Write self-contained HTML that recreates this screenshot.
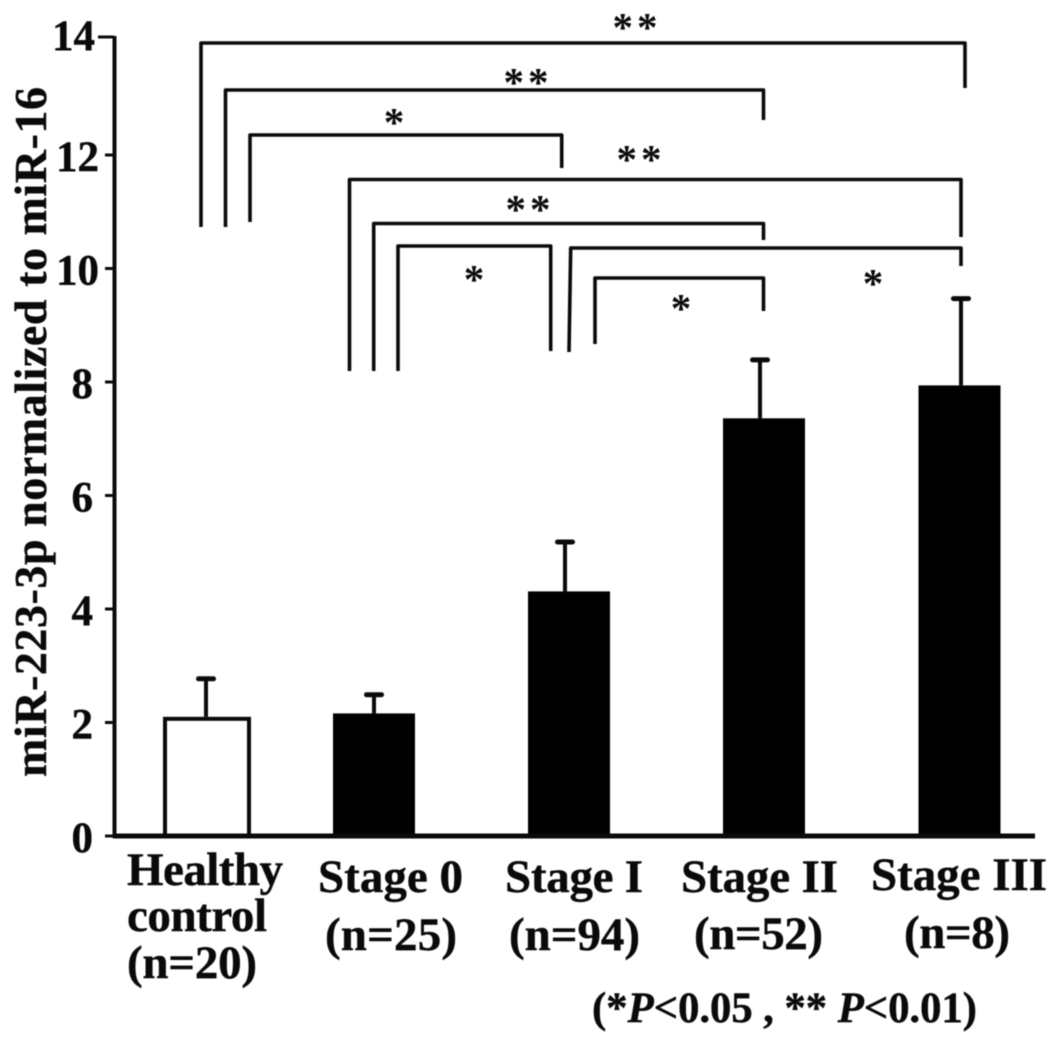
<!DOCTYPE html>
<html lang="en">
<head>
<meta charset="utf-8">
<title>miR-223-3p by stage</title>
<style>
html,body{margin:0;padding:0;background:#fff;width:1063px;height:1044px;overflow:hidden}
svg{display:block;filter:blur(0.6px)}
text{font-family:"Liberation Serif",serif;font-weight:bold;fill:#0a0a0a;stroke:#0a0a0a;stroke-width:0.4px}
.tick{font-size:43px}
.cat{font-size:47px}
.br{fill:none;stroke:#0a0a0a;stroke-width:3.6;stroke-linejoin:round}
.star{font-size:41px;text-anchor:middle;letter-spacing:4px;stroke-width:0}
</style>
</head>
<body>
<svg id="chart" width="1063" height="1044" viewBox="0 0 1063 1044" xmlns="http://www.w3.org/2000/svg">
  <text transform="translate(46,432) rotate(-90)" text-anchor="middle" font-size="46" textLength="690" lengthAdjust="spacing">miR-223-3p normalized to miR-16</text>
  <g id="marks"></g>
  <g id="axes"></g>
  <g>
    <path class="br" d="M201 227V43H965V88"/>
    <path class="br" d="M225.5 227V90H763.5V120"/>
    <path class="br" d="M250 222V135H561.7V168"/>
    <path class="br" d="M349.5 371V179.5H961V237"/>
    <path class="br" d="M373.7 371V223.5H763.5V240"/>
    <path class="br" d="M398 371V246H550.7V351"/>
    <path class="br" d="M569 352L570.7 248H961V266"/>
    <path class="br" d="M595 344V278H763.5V311"/>
  </g>
  <g>
    <text class="star" x="637" y="41">**</text>
    <text class="star" x="528" y="96">**</text>
    <text class="star" x="396" y="136">*</text>
    <text class="star" x="641" y="173">**</text>
    <text class="star" x="530" y="223">**</text>
    <text class="star" x="476" y="293">*</text>
    <text class="star" x="683" y="322">*</text>
    <text class="star" x="875" y="297">*</text>
  </g>
  <g>
    <text class="cat" x="127" y="885" textLength="156">Healthy</text>
    <text class="cat" x="127" y="931" textLength="140">control</text>
    <text class="cat" x="127" y="978" textLength="130">(n=20)</text>
    <text class="cat" x="318" y="892" textLength="145">Stage 0</text>
    <text class="cat" x="325" y="950" textLength="132">(n=25)</text>
    <text class="cat" x="505" y="892" textLength="138">Stage I</text>
    <text class="cat" x="509" y="950" textLength="131">(n=94)</text>
    <text class="cat" x="681" y="892" textLength="157">Stage II</text>
    <text class="cat" x="694" y="949" textLength="129">(n=52)</text>
    <text class="cat" x="871" y="890" textLength="176">Stage III</text>
    <text class="cat" x="904" y="948" textLength="106">(n=8)</text>
  </g>
  <text x="592" y="1022" font-size="43" textLength="385" lengthAdjust="spacing">(*<tspan font-style="italic">P</tspan>&lt;0.05 , ** <tspan font-style="italic">P</tspan>&lt;0.01)</text>
</svg>
<script>
const categories = ['Healthy control', 'Stage 0', 'Stage I', 'Stage II', 'Stage III'];
const means = [2.1, 2.16, 4.31, 7.36, 7.94];
const errorTops = [2.77, 2.49, 5.18, 8.39, 9.47];
const yTicks = [0, 2, 4, 6, 8, 10, 12, 14];
const hollowFlags = [true, false, false, false, false];

const NS = 'http://www.w3.org/2000/svg';
const baseY = 836;
function yScale(v) {
  if (v <= 12) return baseY - (baseY - 155) * v / 12;
  return 155 - (155 - 37) * (v - 12) / 2;
}
const slotCenters = [207, 374, 569, 764, 959.5];
function xScale(i) { return slotCenters[i]; }
const halfWidths = [44, 41, 41, 41, 41];
const stemOffsets = [-1, 0, -4, -4, 1.5];

function add(parent, tag, attrs) {
  const el = document.createElementNS(NS, tag);
  for (const k in attrs) el.setAttribute(k, attrs[k]);
  parent.appendChild(el);
  return el;
}
const marks = document.getElementById('marks');
const axes = document.getElementById('axes');

categories.forEach(function (c, i) {
  const slug = c.toLowerCase().replace(/\s+/g, '-');
  const cx = xScale(i), hw = halfWidths[i];
  const top = yScale(means[i]), et = yScale(errorTops[i]);
  const errX = cx + stemOffsets[i];
  const stem = add(marks, 'line', {x1: errX, x2: errX, y1: et, y2: top, stroke: '#0a0a0a', 'stroke-width': 4});
  
  
  const cap = add(marks, 'line', {x1: errX - 7.5, x2: errX + 7.5, y1: et, y2: et, stroke: '#0a0a0a', 'stroke-width': 5, 'stroke-linecap': 'round'});
  
  
  const hollow = hollowFlags[i];
  const inset = hollow ? 2 : 0;
  const bar = add(marks, 'rect', {
    x: cx - hw + inset, y: top + inset, width: 2 * hw - 2 * inset, height: baseY - top - inset,
    fill: hollow ? '#fff' : '#000', stroke: hollow ? '#0a0a0a' : 'none', 'stroke-width': hollow ? 4 : 0
  });
  
  
});

const yLine = add(axes, 'line', {x1: 114.5, x2: 114.5, y1: 36, y2: baseY + 2, stroke: '#0a0a0a', 'stroke-width': 4});


const xLine = add(axes, 'line', {x1: 113, x2: 1035, y1: baseY, y2: baseY, stroke: '#0a0a0a', 'stroke-width': 5});



yTicks.forEach(function (t) {
  const y = yScale(t);
  const tk = add(axes, 'line', {x1: t === 14 ? 98 : 105, x2: 114, y1: y, y2: y, stroke: '#0a0a0a', 'stroke-width': 3});
  
  
  const lab = add(axes, 'text', {x: (t === 10 || t === 12) ? 99 : (t === 14 ? 95 : 93), y: y + (t === 14 ? 13 : 16), 'text-anchor': 'end', 'class': 'tick'});
  
  
  lab.textContent = t;
});
</script>
</body>
</html>
